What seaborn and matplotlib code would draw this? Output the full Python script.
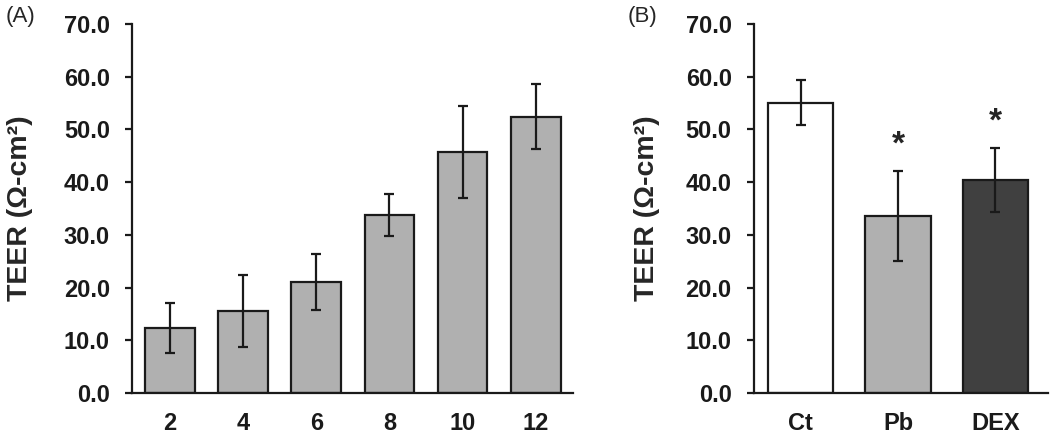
import pandas as pd
import matplotlib
matplotlib.use("Agg")
import matplotlib.pyplot as plt
import seaborn as sns

# panel A: TEER over days
days = ["2", "4", "6", "8", "10", "12"]
teer_days = [12.3, 15.6, 21.1, 33.8, 45.7, 52.4]
err_days = [4.8, 6.8, 5.3, 4.0, 8.7, 6.2]

# panel B: treatments
groups = ["Ct", "Pb", "DEX"]
teer_groups = [55.1, 33.6, 40.4]
err_groups = [4.2, 8.5, 6.0]
sig_groups = ["", "*", "*"]
colors_groups = ["#ffffff", "#b0b0b0", "#404040"]

sns.set_theme(style="ticks")
plt.rcParams["font.family"] = ["Liberation Sans", "DejaVu Sans"]

fig = plt.figure(figsize=(10.5, 4.38), dpi=100)
ax_a = fig.add_axes([0.1257, 0.103, 0.42, 0.842])
ax_b = fig.add_axes([0.718, 0.103, 0.280, 0.842])

df_a = pd.DataFrame({"day": days, "teer": teer_days})
df_b = pd.DataFrame({"group": groups, "teer": teer_groups})

sns.barplot(data=df_a, x="day", y="teer", color="#b0b0b0", width=0.68,
            edgecolor="#1a1a1a", linewidth=1.6, saturation=1, ax=ax_a)
sns.barplot(data=df_b, x="group", y="teer", hue="group", palette=colors_groups,
            width=0.67, edgecolor="#1a1a1a", linewidth=1.6, saturation=1,
            legend=False, ax=ax_b)

ax_a.errorbar(range(len(days)), teer_days, yerr=err_days, fmt="none",
              ecolor="#1a1a1a", elinewidth=1.6, capsize=3.3, capthick=1.6)
ax_b.errorbar(range(len(groups)), teer_groups, yerr=err_groups, fmt="none",
              ecolor="#1a1a1a", elinewidth=1.6, capsize=3.3, capthick=1.6)

for i, s in enumerate(sig_groups):
    if s:
        ax_b.text(i, teer_groups[i] + err_groups[i] + 5.0, s, ha="center",
                  va="center", fontsize=24, fontweight="bold")

for ax, xlim, lab_x in [(ax_a, (-0.52, 5.51), -0.224),
                        (ax_b, (-0.48, 2.54), -0.32)]:
    ax.set_xlim(*xlim)
    ax.set_ylim(0, 70)
    ax.set_yticks(range(0, 71, 10))
    ax.set_yticklabels([f"{v:.1f}" for v in range(0, 71, 10)])
    ax.set_xlabel("")
    ax.set_ylabel("TEER (Ω-cm²)", fontsize=20.5, fontweight="bold")
    ax.yaxis.set_label_coords(lab_x, 0.5)
    sns.despine(ax=ax)
    ax.spines["left"].set_linewidth(1.6)
    ax.spines["bottom"].set_linewidth(1.6)
    ax.spines["left"].set_color("#1a1a1a")
    ax.spines["bottom"].set_color("#1a1a1a")
    ax.tick_params(axis="y", length=5, width=1.6, color="#1a1a1a",
                   labelsize=17, pad=11)
    ax.tick_params(axis="x", length=0, labelsize=17, pad=14)
    for lab in ax.get_xticklabels() + ax.get_yticklabels():
        lab.set_fontweight("bold")
        lab.set_color("#1a1a1a")

fig.text(0.005, 0.963, "(A)", fontsize=16, ha="left", va="center")
fig.text(0.598, 0.963, "(B)", fontsize=16, ha="left", va="center")

fig.savefig("out.png", dpi=100)
